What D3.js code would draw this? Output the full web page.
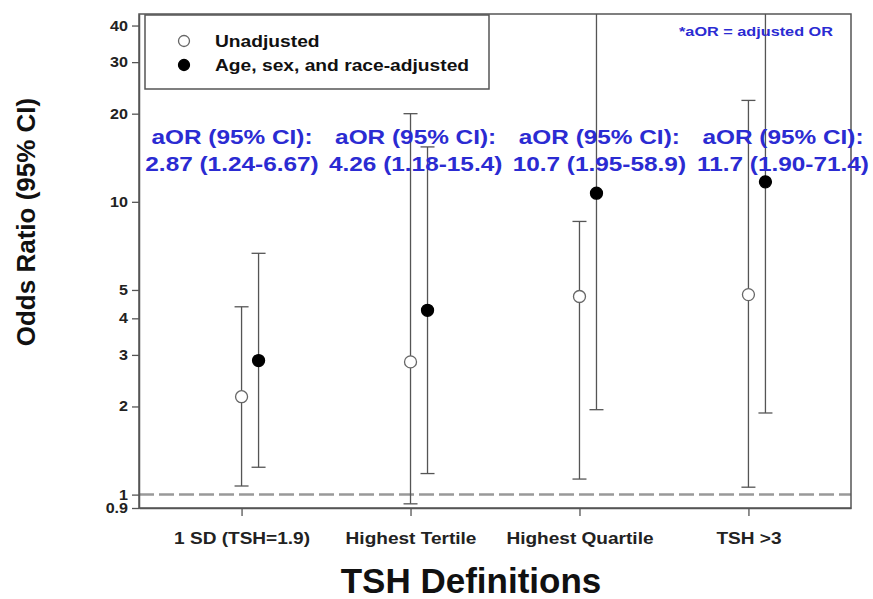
<!DOCTYPE html>
<html>
<head>
<meta charset="utf-8">
<script src="https://cdn.jsdelivr.net/npm/d3@7"></script>
<style>
  body { margin: 0; background: #fff; }
  text { font-family: "Liberation Sans", Arial, sans-serif; font-weight: bold; }
</style>
</head>
<body>
<script>

WIDTH = 873;
HEIGHT = 599;
MARGIN = ({top: 14, right: 22, bottom: 91, left: 139});
BLUE = "#2b2bd2";
LINE = "#555";

// data
var categories = ["1 SD (TSH=1.9)", "Highest Tertile", "Highest Quartile", "TSH >3"];
var unadjOR = [2.16, 2.84, 4.75, 4.82];
var unadjLo = [1.07, 0.93, 1.13, 1.06];
var unadjHi = [4.38, 20.0, 8.57, 22.2];
var adjOR = [2.87, 4.26, 10.7, 11.7];
var adjLo = [1.24, 1.18, 1.95, 1.90];
var adjHi = [6.67, 15.4, 58.9, 71.4];
var adjText = ["2.87 (1.24-6.67)", "4.26 (1.18-15.4)", "10.7 (1.95-58.9)", "11.7 (1.90-71.4)"];
var yTicks = [0.9, 1, 2, 3, 4, 5, 10, 20, 30, 40];
var legendLabels = ["Unadjusted", "Age, sex, and race-adjusted"];

// the source image is a bit wider than tall, so horizontal text is stretched
function stretch(sel, k) {
    sel.each(function() {
        var w = this.getComputedTextLength();
        d3.select(this).attr("textLength", w * k).attr("lengthAdjust", "spacingAndGlyphs");
    });
}

var svg = d3.select("body").append("svg")
    .attr("width", WIDTH)
    .attr("height", HEIGHT);

var x = d3.scalePoint()
    .domain(categories)
    .range([MARGIN.left, WIDTH - MARGIN.right])
    .padding(0.607);

var y = d3.scaleLog()
    .domain([0.9, 43.8])
    .range([HEIGHT - MARGIN.bottom, MARGIN.top]);

var OFFSET = 17;

svg.append("clipPath").attr("id", "plot")
  .append("rect")
    .attr("x", MARGIN.left).attr("y", MARGIN.top)
    .attr("width", WIDTH - MARGIN.right - MARGIN.left)
    .attr("height", HEIGHT - MARGIN.bottom - MARGIN.top);

// reference line at OR = 1
svg.append("line")
    .attr("x1", MARGIN.left).attr("x2", WIDTH - MARGIN.right)
    .attr("y1", y(1)).attr("y2", y(1))
    .attr("stroke", "#999")
    .attr("stroke-width", 2.5)
    .attr("stroke-dasharray", "15,5");

// frame
svg.append("rect")
    .attr("x", MARGIN.left).attr("y", MARGIN.top)
    .attr("width", WIDTH - MARGIN.right - MARGIN.left)
    .attr("height", HEIGHT - MARGIN.bottom - MARGIN.top)
    .attr("fill", "none")
    .attr("stroke", LINE)
    .attr("stroke-width", 1.5);

// axes
var yAxis = svg.append("g")
    .attr("transform", `translate(${MARGIN.left},0)`)
    .call(d3.axisLeft(y).tickValues(yTicks).tickFormat(d3.format("")).tickSize(7).tickPadding(4).tickSizeOuter(0));
yAxis.select(".domain").attr("stroke", LINE).attr("stroke-width", 1.5);
yAxis.selectAll(".tick line").attr("stroke", LINE).attr("stroke-width", 1.3);
yAxis.selectAll(".tick text")
    .attr("font-size", 14).attr("fill", "#222")
    .call(stretch, 1.15);

var xAxis = svg.append("g")
    .attr("transform", `translate(0,${HEIGHT - MARGIN.bottom})`)
    .call(d3.axisBottom(x).tickSize(8).tickPadding(16).tickSizeOuter(0));
xAxis.select(".domain").attr("stroke", LINE).attr("stroke-width", 1.5);
xAxis.selectAll(".tick line").attr("stroke", LINE).attr("stroke-width", 1.3);
xAxis.selectAll(".tick text")
    .attr("font-size", 17).attr("fill", "#222")
    .call(stretch, 1.12);

// axis titles
svg.append("text")
    .attr("transform", "translate(35,222) rotate(-90)")
    .attr("text-anchor", "middle")
    .attr("font-size", 26)
    .attr("fill", "#111")
    .text("Odds Ratio (95% CI)");

svg.append("text")
    .attr("x", 471).attr("y", 593)
    .attr("text-anchor", "middle")
    .attr("font-size", 35)
    .attr("fill", "#111")
    .text("TSH Definitions");

// error bars
var series = [
    {name: "unadj", or: unadjOR, lo: unadjLo, hi: unadjHi, dx: 0, fill: "#fff"},
    {name: "adj", or: adjOR, lo: adjLo, hi: adjHi, dx: OFFSET, fill: "#000"}
];

var plot = svg.append("g").attr("clip-path", "url(#plot)");

series.forEach(function(s) {
    var rows = categories.map((c, i) => ({c: c, or: s.or[i], lo: s.lo[i], hi: s.hi[i]}));
    var g = plot.append("g").attr("class", s.name);

    g.selectAll(".bar").data(rows).enter().append("line")
        .attr("x1", d => x(d.c) + s.dx).attr("x2", d => x(d.c) + s.dx)
        .attr("y1", d => y(d.lo)).attr("y2", d => y(d.hi))
        .attr("stroke", LINE).attr("stroke-width", 1.3);

    var caps = [];
    rows.forEach(d => { caps.push(d.lo); caps.push(d.hi); });
    g.selectAll(".cap").data(rows.flatMap(d => [{c: d.c, v: d.lo}, {c: d.c, v: d.hi}])).enter().append("line")
        .attr("x1", d => x(d.c) + s.dx - 7).attr("x2", d => x(d.c) + s.dx + 7)
        .attr("y1", d => y(d.v)).attr("y2", d => y(d.v))
        .attr("stroke", LINE).attr("stroke-width", 1.3);

    g.selectAll("circle").data(rows).enter().append("circle")
        .attr("cx", d => x(d.c) + s.dx)
        .attr("cy", d => y(d.or))
        .attr("r", 6)
        .attr("fill", s.fill)
        .attr("stroke", s.name == "adj" ? "#000" : "#666")
        .attr("stroke-width", 1.3);
});

// aOR annotations
var annX = d3.scaleLinear().domain([0, 3]).range([232, 783]);
var ann = svg.append("g").attr("fill", BLUE).attr("font-size", 21).attr("text-anchor", "middle");
ann.selectAll(".head").data(adjText).enter().append("text")
    .attr("x", (d, i) => annX(i)).attr("y", 144)
    .text("aOR (95% CI):")
    .call(stretch, 1.16);
ann.selectAll(".val").data(adjText).enter().append("text")
    .attr("x", (d, i) => annX(i)).attr("y", 171)
    .text(d => d)
    .call(stretch, 1.16);

svg.append("text")
    .attr("x", 756).attr("y", 36)
    .attr("text-anchor", "middle")
    .attr("font-size", 13)
    .attr("fill", BLUE)
    .text("*aOR = adjusted OR")
    .call(stretch, 1.25);

// legend
var legend = svg.append("g");
legend.append("rect")
    .attr("x", 145).attr("y", 15)
    .attr("width", 344).attr("height", 74)
    .attr("fill", "#fff")
    .attr("stroke", LINE)
    .attr("stroke-width", 1.5);

var item = legend.selectAll(".item").data(legendLabels).enter().append("g")
    .attr("transform", (d, i) => `translate(0,${41 + i * 24})`);
item.append("circle")
    .attr("cx", 184).attr("r", 5.5)
    .attr("fill", (d, i) => series[i].fill)
    .attr("stroke", (d, i) => i ? "#000" : "#666")
    .attr("stroke-width", 1.3);
item.append("text")
    .attr("x", 215).attr("y", 6)
    .attr("font-size", 17)
    .attr("fill", "#111")
    .text(d => d)
    .call(stretch, 1.13);

</script>
</body>
</html>
